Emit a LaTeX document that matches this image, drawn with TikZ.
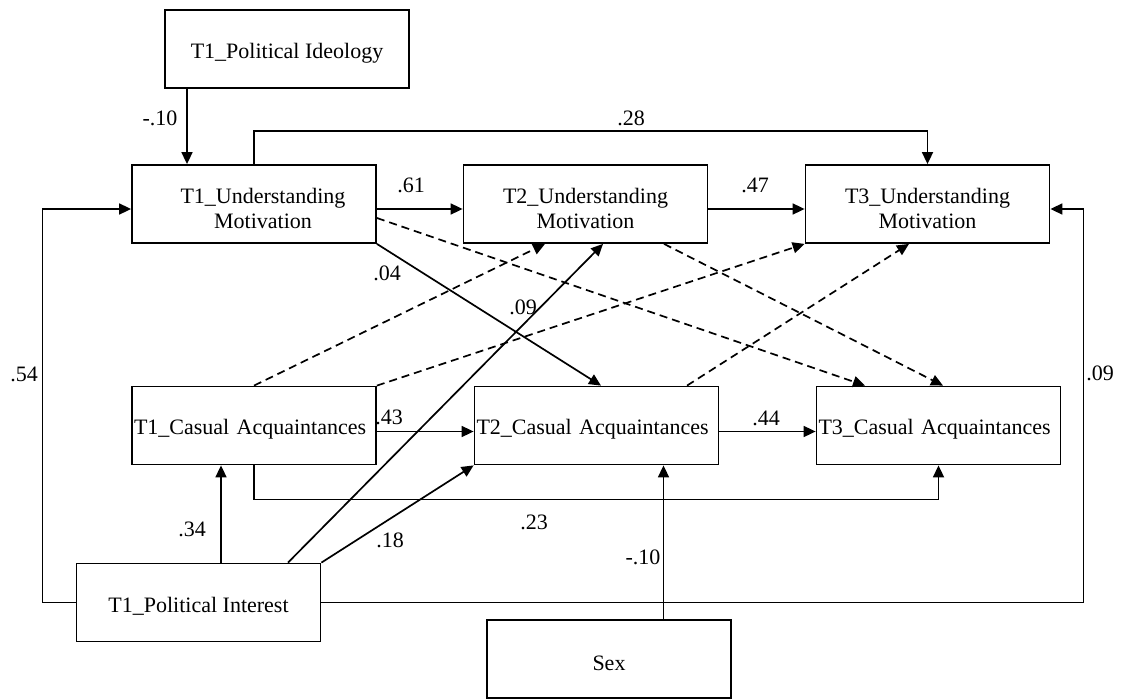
\documentclass[tikz,border=0pt]{standalone}
\usepackage{fontspec}
\setmainfont{Liberation Serif}
\usetikzlibrary{arrows.meta,calc}
\newcommand{\topstrut}{\rule{0pt}{25pt}}
\begin{document}
\begin{tikzpicture}[x=1pt,y=-1pt,
  box/.style={draw, line width=1.8pt, minimum width=244pt, minimum height=78pt,
    inner sep=0pt, font=\fontsize{22}{25}\selectfont, align=center,
    execute at begin node={\rule{0pt}{23pt}}},
  leftbox/.style={box, text width=240pt, align=left},
  coef/.style={font=\fontsize{22}{25}\selectfont, inner sep=0pt},
  conn/.style={line width=1.7pt, -{Triangle[length=12pt,width=11pt]}},
  dconn/.style={conn, dash pattern=on 8pt off 5pt}]
\fill[white] (0,0) rectangle (1123,698);
\useasboundingbox (0,0) rectangle (1123,698);

% variables
\node[box] (ideo) at (287,49) {T1\_Political Ideology};
\node[box] (um1) at (254,204) {\topstrut\hspace*{18pt}T1\_Understanding\\\hspace*{18pt}Motivation};
\node[box] (um2) at (585.5,204) {\topstrut T2\_Understanding\\Motivation};
\node[box] (um3) at (927.5,204) {\topstrut T3\_Understanding\\Motivation};
\node[leftbox] (ca1) at (254,425.5) {T1\_Casual Acquaintances};
\node[leftbox] (ca2) at (596.5,425.5) {T2\_Casual Acquaintances};
\node[leftbox] (ca3) at (938.5,425.5) {T3\_Casual Acquaintances};
\node[box] (pi) at (198.5,602.5) {T1\_Political Interest};
\node[box] (sex) at (609,659) {Sex};

% significant paths
\draw[conn] ([xshift=-100pt]ideo.south) -- ([xshift=-100pt]ideo.south |- um1.north);
\draw[conn] (um1.north) -- ++(0,-33) -| (um3.north);
\draw[conn] ([yshift=-5pt]um1.east) -- ([yshift=-5pt]um2.west);
\draw[conn] ([yshift=-5pt]um2.east) -- ([yshift=-5pt]um3.west);
\draw[conn] ([yshift=-6pt]ca1.east) -- ([yshift=-6pt]ca2.west);
\draw[conn] ([yshift=-6pt]ca2.east) -- ([yshift=-6pt]ca3.west);
\draw[conn] (pi.west) -- ++(-33,0) |- ([yshift=-5pt]um1.west);
\draw[conn] (pi.east) -- ++(762,0) |- ([yshift=-5pt]um3.east);
\draw[conn] ([xshift=22.5pt]pi.north) -- ([xshift=22.5pt]pi.north |- ca1.south);
\draw[conn] ([xshift=89.5pt]pi.north) -- ([xshift=17.5pt]um2.south);
\draw[conn] (pi.north east) -- (ca2.south west);
\draw[conn] (ca1.south) -- ++(0,34) -| (ca3.south);
\draw[conn] ([xshift=54.5pt]sex.north) -- ([xshift=54.5pt]sex.north |- ca2.south);
\draw[conn] (um1.south east) -- ([xshift=4.5pt]ca2.north);

% non-significant paths
\draw[dconn] ([yshift=-14pt]um1.east) -- ([xshift=-73.5pt]ca3.north);
\draw[dconn] ([xshift=78.5pt]um2.south) -- ([xshift=4.5pt]ca3.north);
\draw[dconn] (ca1.north) -- ([xshift=-40.5pt]um2.south);
\draw[dconn] (ca1.north east) -- (um3.south west);
\draw[dconn] ([xshift=90.5pt]ca2.north) -- ([xshift=-18.5pt]um3.south);

% coefficients
\node[coef] (b1) at (160,118) {-.10};
\node[coef] (b2) at (631,118) {.28};
\node[coef] (b3) at (411,185) {.61};
\node[coef] (b4) at (755,185) {.47};
\node[coef] (b5) at (387,273) {.04};
\node[coef] (b6) at (523,307) {.09};
\node[coef] (b7) at (24,374) {.54};
\node[coef] (b8) at (389,417) {.43};
\node[coef] (b9) at (766,418) {.44};
\node[coef] (b10) at (1100,373) {.09};
\node[coef] (b11) at (192,529) {.34};
\node[coef] (b12) at (390,540) {.18};
\node[coef] (b13) at (534,522) {.23};
\node[coef] (b14) at (643,557) {-.10};
\end{tikzpicture}
\end{document}
